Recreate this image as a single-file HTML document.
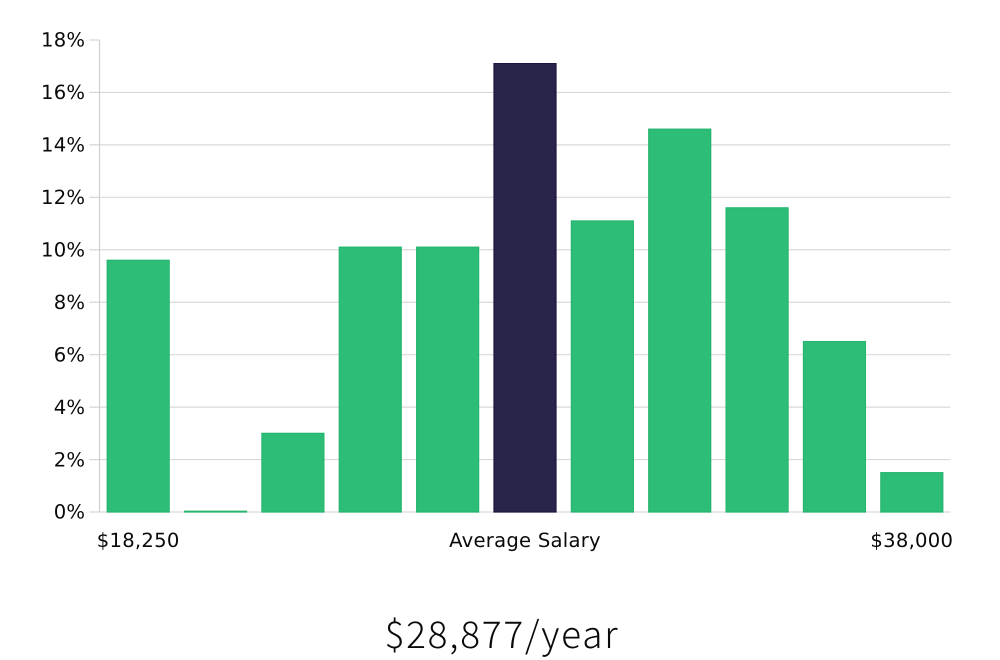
<!DOCTYPE html>
<html>
<head>
<meta charset="utf-8">
<style>
html,body{margin:0;padding:0;background:#fff;width:1000px;height:660px;overflow:hidden}
svg{display:block}
text{font-family:"DejaVu Sans",sans-serif;fill:#0a0a0a;text-rendering:geometricPrecision}
</style>
</head>
<body>
<svg id="chart" width="1000" height="660" viewBox="0 0 1000 660" xmlns="http://www.w3.org/2000/svg"></svg>
<script>
const binLabels = ["$18,250","","","","","Average Salary","","","","","$38,000"];
const shares = [9.6,0.03,3.0,10.1,10.1,17.1,11.1,14.6,11.6,6.5,1.5];
const highlightedBin = [5];
const yTicks = [0,2,4,6,8,10,12,14,16,18];
const summaryValue = ["$28,877/year"];

const svg = document.getElementById('chart');
const NS = 'http://www.w3.org/2000/svg';
const left = 99.5, right = 950.5, top0 = 40, bottom = 512, yMax = 18;
const band = (right - left) / shares.length;
const barWidth = 62;
function xCenter(i){ return left + band * (i + 0.5); }
function yScale(v){ return bottom - (v / yMax) * (bottom - top0); }
function make(tag, attrs, text){
  const el = document.createElementNS(NS, tag);
  for (const k in attrs) el.setAttribute(k, attrs[k]);
  if (text !== undefined) el.textContent = text;
  svg.appendChild(el);
  return el;
}

yTicks.forEach(function(t){
  const y = yScale(t);
  if (t !== yMax) {
    const grid = make('line', {x1:left, x2:right, y1:y, y2:y, stroke:'#d9d9d9', 'stroke-width':1.2});
    
    
  }
  const tick = make('line', {x1:left-10, x2:left, y1:y, y2:y, stroke:'#d4d4d4', 'stroke-width':1.2});
  
  
  const label = make('text', {x:85.3, y:y+6.7, 'text-anchor':'end', 'font-size':19.6, 'letter-spacing':0.25}, t + '%');
  
  
});

const axis = make('line', {x1:left, x2:left, y1:top0, y2:bottom, stroke:'#d0d0d0', 'stroke-width':1.2});



shares.forEach(function(v, i){
  const hi = highlightedBin.indexOf(i) >= 0;
  const y = yScale(v);
  const bar = make('rect', {
    x: xCenter(i) - barWidth / 2, y: y, width: barWidth, height: bottom - y,
    fill: hi ? '#29254a' : '#2dbd77',
    stroke: hi ? '#1a1640' : '#25b56e',
    'stroke-width': 1.2
  });
  
  
});

binLabels.forEach(function(l, i){
  if (!l) return;
  const label = make('text', {x:xCenter(i), y:547, 'text-anchor':'middle', 'font-size':19.6, 'letter-spacing':0.25}, l);
  
  
});

const summary = make('text', {
  x:501, y:648, 'text-anchor':'middle', 'font-size':37,
  textLength:233, lengthAdjust:'spacing'
}, summaryValue[0]);
summary.setAttribute('style', 'font-family:"Noto Sans CJK JP","Liberation Sans",sans-serif;font-weight:300');


</script>
</body>
</html>
